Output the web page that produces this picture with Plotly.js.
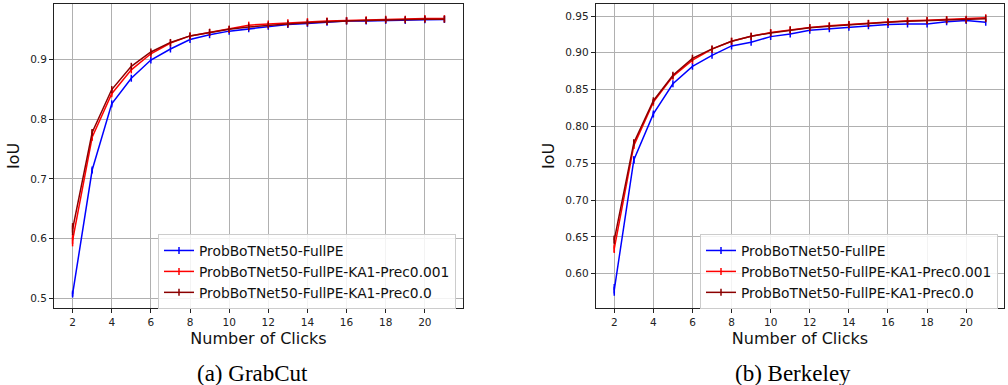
<!DOCTYPE html>
<html>
<head>
<meta charset="utf-8">
<script src="https://cdn.plot.ly/plotly-3.0.1.min.js"></script>
<style>html,body{margin:0;padding:0;background:#fff;}#chart{width:1008px;height:385px;}</style>
</head>
<body>
<div id="chart"></div>
<script>
const clicks = [2,3,4,5,6,7,8,9,10,11,12,13,14,15,16,17,18,19,20,21];
const seriesNames = ["ProbBoTNet50-FullPE", "ProbBoTNet50-FullPE-KA1-Prec0.001", "ProbBoTNet50-FullPE-KA1-Prec0.0"];

// (a) GrabCut
const grabBlue = [0.507,0.715,0.826,0.869,0.8995,0.918,0.934,0.942,0.948,0.952,0.956,0.959,0.961,0.963,0.965,0.965,0.966,0.966,0.967,0.9675];
const grabRed  = [0.597,0.770,0.843,0.883,0.910,0.928,0.940,0.946,0.951,0.958,0.960,0.962,0.964,0.965,0.966,0.967,0.968,0.968,0.969,0.969];
const grabDark = [0.616,0.778,0.850,0.889,0.913,0.929,0.940,0.946,0.951,0.955,0.958,0.960,0.962,0.964,0.965,0.966,0.967,0.967,0.968,0.968];
const grabErrBlue = [0.004,0.004,0.003,0,0,0,0,0,0,0,0,0,0,0,0,0,0,0,0,0];
const grabErrRed  = [0.010,0.005,0.003,0,0,0,0,0,0,0,0,0,0,0,0,0,0,0,0,0];
const grabErrDark = [0.010,0.005,0.003,0,0,0,0,0,0,0,0,0,0,0,0,0,0,0,0,0];

// (b) Berkeley
const berkBlue = [0.578,0.7545,0.817,0.858,0.8816,0.8966,0.9094,0.9143,0.922,0.9257,0.9307,0.9326,0.9348,0.9366,0.9384,0.9393,0.9393,0.9421,0.9439,0.9416];
const berkRed  = [0.634,0.774,0.833,0.868,0.890,0.905,0.9157,0.9225,0.9275,0.9312,0.9343,0.9366,0.9384,0.9402,0.9421,0.9434,0.9443,0.9452,0.9456,0.9475];
const berkDark = [0.646,0.778,0.835,0.8695,0.8925,0.9053,0.9157,0.9225,0.927,0.931,0.934,0.936,0.938,0.9398,0.9415,0.9428,0.9437,0.9445,0.945,0.9461];
const berkErrBlue = [0.008,0.005,0.003,0,0,0,0,0,0,0,0,0,0,0,0,0,0,0,0,0];
const berkErrRed  = [0.006,0.004,0.002,0,0,0,0,0,0,0,0,0,0,0,0,0,0,0,0,0];
const berkErrDark = [0.006,0.004,0.002,0,0,0,0,0,0,0,0,0,0,0,0,0,0,0,0,0];

const xTicks = [2,4,6,8,10,12,14,16,18,20];
const grabYTicks = [0.5,0.6,0.7,0.8,0.9];
const berkYTicks = [0.60,0.65,0.70,0.75,0.80,0.85,0.90,0.95];
const captions = ["(a) GrabCut", "(b) Berkeley"];
const xTitle = "Number of Clicks";
const yTitle = "IoU";

const colors = ["#0000ff", "#ff0000", "#8b0000"];
const FONT = "DejaVu Sans, sans-serif";

function mk(y, err, i, xa, ya, leg) {
  return {
    x: clicks, y: y, type: "scatter", mode: "lines+markers",
    name: seriesNames[i], xaxis: xa, yaxis: ya, legend: leg,
    line: {color: colors[i], width: 1.5},
    marker: {symbol: "line-ns-open", size: 5, color: colors[i], line: {color: colors[i], width: 1.5}},
    error_y: {type: "data", array: err, visible: true, color: colors[i], thickness: 1.5, width: 0}
  };
}

const data = [
  mk(grabBlue, grabErrBlue, 0, "x", "y", "legend"),
  mk(grabRed, grabErrRed, 1, "x", "y", "legend"),
  mk(grabDark, grabErrDark, 2, "x", "y", "legend"),
  mk(berkBlue, berkErrBlue, 0, "x2", "y2", "legend2"),
  mk(berkRed, berkErrRed, 1, "x2", "y2", "legend2"),
  mk(berkDark, berkErrDark, 2, "x2", "y2", "legend2")
];

const W = 1008, H = 385;
function px(v) { return v / W; }
function py(v) { return (H - v) / H; }

const axCommon = {
  showline: true, mirror: true, linecolor: "#222", linewidth: 1,
  showgrid: true, gridcolor: "#b0b0b0", gridwidth: 1,
  ticks: "outside", ticklen: 4, tickcolor: "#222", tickwidth: 1,
  tickfont: {family: FONT, size: 10.5, color: "#222"},
  zeroline: false, fixedrange: true
};

function xax(domain, anchor) {
  return Object.assign({}, axCommon, {
    domain: domain, anchor: anchor, range: [1.05, 21.95],
    tickmode: "array", tickvals: xTicks, ticktext: xTicks.map(String),
    title: {text: xTitle, font: {family: FONT, size: 16, color: "#111"}, standoff: 6}
  });
}
function yax(range, ticks, fmt, anchor) {
  return Object.assign({}, axCommon, {
    domain: [py(308), py(4)], anchor: anchor, range: range,
    tickmode: "array", tickvals: ticks, ticktext: ticks.map(v => v.toFixed(fmt)),
    title: {text: yTitle, font: {family: FONT, size: 16, color: "#111"}, standoff: 6}
  });
}

const legendCommon = {
  bgcolor: "rgba(255,255,255,0.85)", bordercolor: "#cccccc", borderwidth: 1,
  font: {family: FONT, size: 13.8, color: "#111"},
  xref: "paper", yref: "paper", xanchor: "right", yanchor: "top",
  tracegroupgap: 0
};

const layout = {
  width: W, height: H,
  margin: {l: 0, r: 0, t: 0, b: 0},
  paper_bgcolor: "#ffffff", plot_bgcolor: "#ffffff",
  showlegend: true,
  xaxis: xax([px(54), px(463)], "y"),
  yaxis: yax([0.4836, 0.9935], grabYTicks, 1, "x"),
  xaxis2: xax([px(595.7), px(1004.3)], "y2"),
  yaxis2: yax([0.5534, 0.9663], berkYTicks, 2, "x2"),
  legend: Object.assign({}, legendCommon, {x: px(456), y: py(234)}),
  legend2: Object.assign({}, legendCommon, {x: px(998), y: py(234)}),
  annotations: [
    {text: captions[0], xref: "paper", yref: "paper", x: px(252), y: py(373), xanchor: "center", yanchor: "middle",
     showarrow: false, font: {family: "Liberation Serif, Times New Roman, serif", size: 23, color: "#000"}},
    {text: captions[1], xref: "paper", yref: "paper", x: px(793), y: py(373), xanchor: "center", yanchor: "middle",
     showarrow: false, font: {family: "Liberation Serif, Times New Roman, serif", size: 23, color: "#000"}}
  ]
};

Plotly.newPlot("chart", data, layout, {staticPlot: true, displayModeBar: false});
</script>
</body>
</html>
